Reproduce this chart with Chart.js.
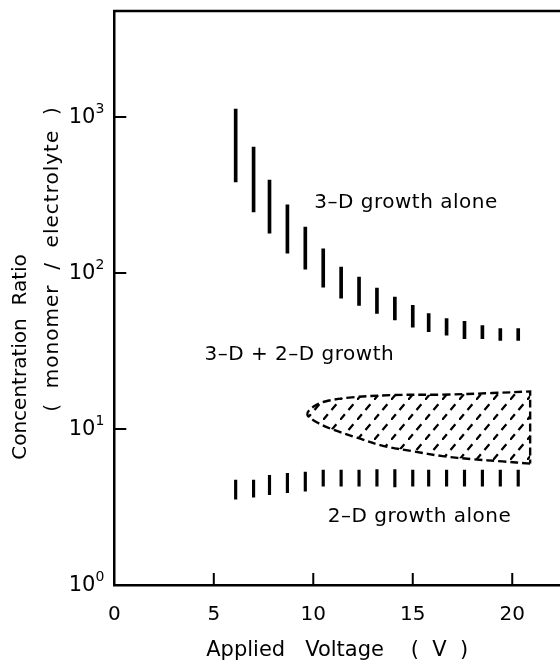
<!DOCTYPE html>
<html>
<head>
<meta charset="utf-8">
<script src="https://cdn.jsdelivr.net/npm/chart.js@4.4.1/dist/chart.umd.min.js"></script>
<style>
  html, body { margin: 0; padding: 0; background: #fff; }
  canvas { display: block; }
</style>
</head>
<body>
<canvas id="growthChart" width="560" height="665"></canvas>
<script>
// applied voltage (V) of each measured range
const voltages = [6.1, 7.0, 7.8, 8.7, 9.6, 10.5, 11.4, 12.3, 13.2, 14.1, 15.0, 15.8, 16.7, 17.6, 18.5, 19.4, 20.3];

// boundary to 3-D growth alone (ratio range at each voltage)
const upperLow  = [383, 246, 180, 134, 106, 81, 69, 62, 55, 50, 45, 42, 40, 38, 38, 37, 37];
const upperHigh = [1125, 642, 394, 273, 197, 143, 109, 94, 80, 70, 62, 55, 51, 49, 46, 44, 44];

// boundary to 2-D growth alone
const lowerLow  = [3.55, 3.65, 3.8, 3.9, 4.0, 4.3, 4.3, 4.3, 4.3, 4.25, 4.3, 4.3, 4.3, 4.3, 4.3, 4.3, 4.3];
const lowerHigh = [4.7, 4.7, 5.05, 5.2, 5.3, 5.45, 5.45, 5.45, 5.5, 5.5, 5.45, 5.45, 5.45, 5.45, 5.45, 5.45, 5.45];

// outline of the hatched zone (bottom edge right->left, then top edge left->right);
// corner points are doubled so the spline keeps them sharp
const zoneV   = [20.9, 20.9, 19.5, 18.0, 16.5, 15.0, 13.5, 12.2, 11.0, 10.2, 9.7, 10.0, 10.6, 11.8, 14.0, 16.5, 19.0, 20.9, 20.9, 20.9];
const zoneVal = [6.0, 6.0, 6.2, 6.4, 6.7, 7.2, 7.8, 8.8, 9.9, 11.0, 12.4, 13.9, 15.0, 15.9, 16.5, 16.6, 17.0, 17.4, 17.4, 6.0];

const xTicks = [0, 5, 10, 15, 20];
const yTicks = [1, 10, 100, 1000];
const yTickExp = ['0', '1', '2', '3'];

const regionLabels = [
    { text: '3–D growth alone', v: 14.66, r: 281 },
    { text: '3–D + 2–D growth', v: 9.3, r: 29.8 },
    { text: '2–D growth alone', v: 15.34, r: 2.73 }
];

const FONT = '"DejaVu Sans", sans-serif';

function hatchPattern() {
    const c = document.createElement('canvas');
    c.width = 17;
    c.height = 20;
    const g = c.getContext('2d');
    g.strokeStyle = '#000';
    g.lineWidth = 2.3;
    g.setLineDash([7.5, 5.6]);
    g.beginPath();
    g.moveTo(0, 20);
    g.lineTo(17, 0);
    g.stroke();
    return g.createPattern(c, 'repeat');
}

// frame top, inward ticks, power-of-ten labels, region names and the y title
const paperDecor = {
    id: 'paperDecor',
    afterDraw(chart) {
        const { ctx, chartArea: a, scales: { x, y } } = chart;
        ctx.save();
        ctx.strokeStyle = '#000';
        ctx.fillStyle = '#000';
        ctx.lineWidth = 2.5;
        ctx.beginPath();
        ctx.moveTo(a.left - 1, a.top);
        ctx.lineTo(a.right, a.top);
        ctx.stroke();

        ctx.lineWidth = 2;
        ctx.beginPath();
        xTicks.forEach(v => {
            if (v === 0) return;
            const px = x.getPixelForValue(v);
            ctx.moveTo(px, a.bottom);
            ctx.lineTo(px, a.bottom - 12);
        });
        yTicks.forEach(v => {
            if (v === 1) return;
            const py = y.getPixelForValue(v);
            ctx.moveTo(a.left, py);
            ctx.lineTo(a.left + 12, py);
        });
        ctx.stroke();

        // 10 with a raised exponent
        ctx.textBaseline = 'middle';
        yTicks.forEach((v, i) => {
            const py = y.getPixelForValue(v);
            ctx.font = '14px ' + FONT;
            ctx.textAlign = 'right';
            const expW = ctx.measureText(yTickExp[i]).width;
            const right = a.left - 10;
            ctx.fillText(yTickExp[i], right, py - 8);
            ctx.font = '21px ' + FONT;
            ctx.fillText('10', right - expW, py + 1);
        });

        ctx.font = '20px ' + FONT;
        ctx.textAlign = 'center';
        ctx.letterSpacing = '0.5px';
        regionLabels.forEach(l => {
            ctx.fillText(l.text, x.getPixelForValue(l.v), y.getPixelForValue(l.r));
        });

        ctx.font = '20px ' + FONT;
        ctx.letterSpacing = '0px';
        ctx.save();
        ctx.translate(21, 357);
        ctx.rotate(-Math.PI / 2);
        ctx.fillText('Concentration  Ratio', 0, 0);
        ctx.restore();
        ctx.save();
        ctx.translate(53, 259);
        ctx.rotate(-Math.PI / 2);
        ctx.letterSpacing = '1px';
        ctx.fillText('(  monomer  /  electrolyte  )', 0, 0);
        ctx.restore();
        ctx.restore();
    }
};

const ctx = document.getElementById('growthChart').getContext('2d');
const growthChart = new Chart(ctx, {
    type: 'bar',
    data: {
        datasets: [
            {
                data: voltages.map((v, i) => ({ x: v, y: [upperLow[i], upperHigh[i]] })),
                backgroundColor: '#000',
                barThickness: 3,
                grouped: false
            },
            {
                data: voltages.map((v, i) => ({ x: v, y: [lowerLow[i], lowerHigh[i]] })),
                backgroundColor: '#000',
                barThickness: 2.5,
                grouped: false
            },
            {
                type: 'line',
                data: zoneV.map((v, i) => ({ x: v, y: zoneVal[i] })),
                borderColor: '#000',
                borderWidth: 2.4,
                borderDash: [8, 4],
                backgroundColor: hatchPattern(),
                fill: 'shape',
                tension: 0.35,
                pointRadius: 0
            }
        ]
    },
    options: {
        responsive: false,
        animation: false,
        layout: { padding: { top: 11, right: 0, left: 0, bottom: 0 } },
        plugins: {
            legend: { display: false },
            tooltip: { enabled: false }
        },
        scales: {
            x: {
                type: 'linear',
                offset: false,
                min: 0,
                max: 22.4,
                afterFit: (s) => {
                    s.height = 80;
                    s.paddingLeft = 0;
                    s.paddingRight = 0;
                },
                afterBuildTicks: (s) => { s.ticks = xTicks.map(v => ({ value: v })); },
                grid: { display: false },
                border: { display: true, color: '#000', width: 2.5 },
                ticks: {
                    color: '#000',
                    font: { family: FONT, size: 20 },
                    padding: 10,
                    maxRotation: 0,
                    autoSkip: false
                },
                title: {
                    display: true,
                    text: 'Applied   Voltage    (  V  )',
                    color: '#000',
                    font: { family: FONT, size: 21 },
                    padding: { top: 0, bottom: 2 }
                }
            },
            y: {
                type: 'logarithmic',
                min: 1,
                max: 4780,
                afterFit: (s) => {
                    s.width = 114.3;
                    s.paddingTop = 0;
                    s.paddingBottom = 0;
                },
                afterBuildTicks: (s) => { s.ticks = yTicks.map(v => ({ value: v })); },
                grid: { display: false },
                border: { display: true, color: '#000', width: 2.5 },
                ticks: { display: false }
            }
        }
    },
    plugins: [paperDecor]
});
</script>
</body>
</html>
